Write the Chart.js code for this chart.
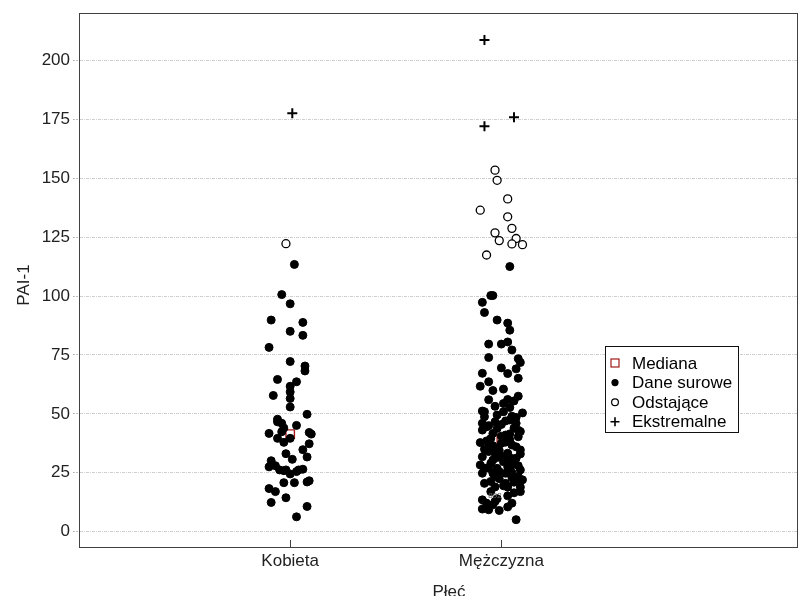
<!DOCTYPE html>
<html>
<head>
<meta charset="utf-8">
<script src="https://cdn.jsdelivr.net/npm/chart.js@4.4.1/dist/chart.umd.min.js"></script>
<style>
  html, body { margin: 0; padding: 0; background: #fff; }
  canvas { display: block; }
</style>
</head>
<body>
<canvas id="chart" width="809" height="596"></canvas>
<script>
// categories and tick labels
const categories = ['Kobieta', 'Mężczyzna'];
const yTicks = [0, 25, 50, 75, 100, 125, 150, 175, 200];

// medians (one per category)
const medians = [41.4, 39.6];

// raw data, Kobieta: values and horizontal jitter (in category units)
const kobietaRaw = [113.4, 100.6, 96.7, 89.8, 88.8, 85.0, 83.3, 78.2, 72.2, 70.3, 68.2, 64.6, 63.6, 61.7,
  59.3, 57.8, 56.5, 52.9, 49.8, 47.7, 46.0, 45.1, 41.7, 39.6, 42.4, 37.9, 39.6, 42.1, 41.4, 37.3, 34.8,
  33.1, 30.7, 31.7, 30.1, 27.5, 28.0, 26.2, 25.9, 26.2, 24.5, 25.5, 26.2, 26.5, 20.8, 20.8, 21.1, 21.6,
  18.3, 17.0, 14.4, 12.4, 10.7, 6.3, 46.6, 44.0];
const kobietaRawJitter = [0.02, -0.04, 0.00, -0.09, 0.06, 0.00, 0.06, -0.10, 0.00, 0.07, 0.07, -0.06, 0.03, 0.00,
  0.00, -0.08, 0.00, 0.00, 0.08, -0.06, -0.04, 0.03, -0.10, -0.06, -0.04, -0.03, 0.00, 0.09, 0.10, 0.09, 0.06,
  -0.02, 0.01, 0.08, -0.09, -0.10, -0.07, -0.05, -0.03, -0.02, 0.00, 0.03, 0.04, 0.06, -0.03, 0.02, 0.08, 0.09,
  -0.10, -0.07, -0.02, -0.09, 0.08, 0.03, -0.06, -0.03];

// raw data, Mężczyzna
const mezczyznaRaw = [112.5, 100.2, 100.2, 97.3, 93.0, 89.8, 88.5, 85.5, 79.6, 79.6, 80.5, 77.1, 73.9, 73.4,
  71.8, 69.5, 69.1, 67.1, 67.2, 65.1, 63.6, 61.7, 59.9, 60.5, 56.1, 57.5, 54.4, 52.7, 53.2, 51.2, 50.4,
  49.5, 48.8, 49.0, 48.5, 50.9, 50.9, 46.0, 46.6, 46.0, 47.4, 43.1, 41.7, 43.8, 41.0, 40.3, 37.8, 37.5,
  37.5, 36.8, 34.7, 34.0, 33.3, 33.3, 31.8, 31.2, 30.4, 29.7, 28.3, 28.3, 26.9, 26.9, 26.2, 24.8, 24.8,
  24.8, 23.4, 21.3, 18.9, 18.9, 17.0, 17.0, 15.2, 13.5, 12.1, 12.1, 11.4, 9.6, 9.3, 9.0, 5.1,
  44.5, 44.0, 45.5, 39.5, 39.0, 36.0, 35.5, 35.0, 32.0, 31.0, 29.0, 27.5, 22.5, 21.0, 20.5, 20.5, 22.0,
  19.0, 28.0, 40.5, 55.5, 56.0, 42.5, 38.5, 25.5, 23.0, 30.0, 34.5,
  47.0, 45.0, 43.0, 41.5, 38.0, 36.5, 33.0, 31.5, 29.5, 27.0, 25.0, 23.5, 21.5, 19.5, 16.5, 14.0, 12.8, 10.5];
const mezczyznaRawJitter = [0.04, -0.05, -0.04, -0.09, -0.08, -0.02, 0.03, 0.04, -0.06, 0.00, 0.03, 0.05, -0.06, 0.08,
  0.09, 0.00, 0.07, 0.03, -0.09, 0.08, -0.06, -0.10, -0.04, 0.01, 0.03, 0.08, 0.01, 0.04, -0.03, -0.09, 0.10,
  -0.02, -0.08, 0.05, 0.07, -0.08, 0.01, -0.09, -0.03, 0.07, 0.04, -0.09, -0.04, -0.02, 0.02, 0.08, -0.10, -0.06,
  0.00, 0.05, 0.09, -0.06, -0.03, 0.03, -0.09, 0.07, -0.04, 0.01, -0.10, 0.05, -0.06, -0.02, 0.09, -0.04, 0.02,
  -0.09, 0.08, -0.05, 0.03, 0.09, 0.09, -0.05, 0.03, -0.09, 0.05, -0.07, -0.04, -0.09, -0.06, -0.01, 0.07,
  -0.07, 0.06, 0.00, -0.05, 0.04, 0.07, -0.02, -0.08, 0.01, 0.05, -0.05, 0.03, -0.01, 0.06, -0.08, 0.02, 0.10,
  -0.03, 0.08, 0.00, 0.06, -0.06, 0.09, -0.07, -0.01, 0.05, 0.04, -0.01,
  0.02, -0.06, 0.08, 0.04, 0.02, -0.04, 0.09, -0.02, 0.06, -0.08, 0.05, -0.03, 0.07, 0.01, 0.06, -0.02, -0.03, 0.03];

// outliers (open circles)
const kobietaOut = [122.2];
const kobietaOutJitter = [-0.02];
const mezczyznaOut = [153.4, 149.1, 141.2, 136.4, 133.6, 128.7, 126.8, 124.4, 123.5, 122.1, 121.8, 117.4];
const mezczyznaOutJitter = [-0.03, -0.02, 0.03, -0.10, 0.03, 0.05, -0.03, 0.07, -0.01, 0.05, 0.10, -0.07];

// extremes (crosses)
const kobietaExt = [177.6];
const kobietaExtJitter = [0.01];
const mezczyznaExt = [208.6, 175.9, 172.0];
const mezczyznaExtJitter = [-0.08, 0.06, -0.08];

// case label shown inside the Mężczyzna cloud
const caseLabels = [{ text: '892', cat: 2, jitter: -0.03, y: 15.2 }];

const toPoints = (cat, values, jitter) => values.map((v, i) => ({ x: cat + jitter[i], y: v }));

const FONT = 'Arial, "Liberation Sans", sans-serif';

// extra drawing: frame, x tick marks, axis titles, legend box, case label
const decorations = {
  id: 'decorations',
  afterDraw(chart) {
    const { ctx, chartArea: a, scales } = chart;
    ctx.save();
    // frame
    ctx.strokeStyle = '#404040';
    ctx.lineWidth = 1;
    ctx.strokeRect(Math.round(a.left) + 0.5, Math.round(a.top) + 0.5,
      Math.round(a.right - a.left), Math.round(a.bottom - a.top));
    // x tick marks, pointing inside
    categories.forEach((c, i) => {
      const x = Math.round(scales.x.getPixelForValue(i + 1)) + 0.5;
      ctx.beginPath();
      ctx.moveTo(x, a.bottom);
      ctx.lineTo(x, a.bottom - 7);
      ctx.stroke();
    });
    // case labels
    ctx.fillStyle = '#666';
    ctx.font = '8px ' + FONT;
    ctx.textAlign = 'center';
    ctx.textBaseline = 'middle';
    caseLabels.forEach(l => {
      ctx.fillText(l.text, scales.x.getPixelForValue(l.cat + l.jitter), scales.y.getPixelForValue(l.y));
    });
    // axis titles
    ctx.fillStyle = '#222';
    ctx.font = '17px ' + FONT;
    ctx.textBaseline = 'alphabetic';
    ctx.fillText('Płeć', 449, 597);
    ctx.save();
    ctx.translate(29, 285);
    ctx.rotate(-Math.PI / 2);
    ctx.fillText('PAI-1', 0, 0);
    ctx.restore();
    // legend
    const lx = 605.5, ly = 346.5, lw = 133, lh = 86;
    ctx.fillStyle = '#fff';
    ctx.fillRect(lx, ly, lw, lh);
    ctx.strokeStyle = '#111';
    ctx.strokeRect(lx, ly, lw, lh);
    const rows = ['Mediana', 'Dane surowe', 'Odstające', 'Ekstremalne'];
    const mx = 615;
    rows.forEach((t, i) => {
      const y = 363 + i * 19.6;
      ctx.lineWidth = 1.2;
      if (i === 0) {
        ctx.strokeStyle = '#a31a1a';
        ctx.strokeRect(mx - 4, y - 4, 8, 8);
      } else if (i === 1) {
        ctx.fillStyle = '#000';
        ctx.beginPath(); ctx.arc(mx, y, 3.6, 0, Math.PI * 2); ctx.fill();
      } else if (i === 2) {
        ctx.strokeStyle = '#000';
        ctx.beginPath(); ctx.arc(mx, y, 3.4, 0, Math.PI * 2); ctx.stroke();
      } else {
        ctx.strokeStyle = '#000';
        ctx.lineWidth = 1.6;
        ctx.beginPath();
        ctx.moveTo(mx - 4.5, y); ctx.lineTo(mx + 4.5, y);
        ctx.moveTo(mx, y - 4.5); ctx.lineTo(mx, y + 4.5);
        ctx.stroke();
      }
      ctx.fillStyle = '#000';
      ctx.font = '17px ' + FONT;
      ctx.textAlign = 'left';
      ctx.textBaseline = 'middle';
      ctx.fillText(t, 632, y + 1);
    });
    ctx.restore();
  }
};

new Chart(document.getElementById('chart'), {
  type: 'scatter',
  data: {
    datasets: [
      {
        label: 'Mediana',
        data: medians.map((m, i) => ({ x: i + 1, y: m })),
        pointStyle: 'rect',
        pointRadius: 6,
        backgroundColor: 'rgba(255,255,255,0)',
        borderColor: '#a31a1a',
        borderWidth: 1.4,
        order: 5,
      },
      {
        label: 'Dane surowe',
        data: toPoints(1, kobietaRaw, kobietaRawJitter).concat(toPoints(2, mezczyznaRaw, mezczyznaRawJitter)),
        pointStyle: 'circle',
        pointRadius: 4,
        backgroundColor: '#000',
        borderColor: '#000',
        borderWidth: 1,
        order: 1,
      },
      {
        label: 'Odstające',
        data: toPoints(1, kobietaOut, kobietaOutJitter).concat(toPoints(2, mezczyznaOut, mezczyznaOutJitter)),
        pointStyle: 'circle',
        pointRadius: 4,
        backgroundColor: '#fff',
        borderColor: '#000',
        borderWidth: 1.3,
        order: 1,
      },
      {
        label: 'Ekstremalne',
        data: toPoints(1, kobietaExt, kobietaExtJitter).concat(toPoints(2, mezczyznaExt, mezczyznaExtJitter)),
        pointStyle: 'cross',
        pointRadius: 5,
        borderColor: '#000',
        borderWidth: 2,
        order: 1,
      },
    ],
  },
  options: {
    responsive: false,
    animation: false,
    devicePixelRatio: 1,
    layout: { padding: { top: 12, right: 12, left: 0, bottom: 0 } },
    plugins: {
      legend: { display: false },
      tooltip: { enabled: false },
    },
    scales: {
      x: {
        type: 'linear',
        min: 0,
        max: 3.4,
        afterBuildTicks: s => { s.ticks = categories.map((c, i) => ({ value: i + 1 })); },
        afterFit: s => { s.height = 49; },
        ticks: {
          callback: v => categories[v - 1] || '',
          color: '#222',
          font: { family: FONT, size: 17 },
          padding: 4,
          maxRotation: 0,
          autoSkip: false,
        },
        grid: { display: false, drawTicks: false },
        border: { display: true, color: '#404040', width: 1 },
      },
      y: {
        type: 'linear',
        min: -6.5,
        max: 220,
        afterBuildTicks: s => { s.ticks = yTicks.map(v => ({ value: v })); },
        afterFit: s => { s.width = 79; },
        ticks: {
          color: '#222',
          font: { family: FONT, size: 17 },
          padding: 3,
        },
        grid: {
          color: '#cfcfcf',
          lineWidth: 1,
          drawTicks: true,
          tickLength: 6,
          tickColor: '#bdbdbd',
          tickBorderDash: [2, 1],
        },
        border: { display: true, color: '#404040', width: 1, dash: [3, 1, 1, 1] },
      },
    },
  },
  plugins: [decorations],
});
</script>
</body>
</html>
